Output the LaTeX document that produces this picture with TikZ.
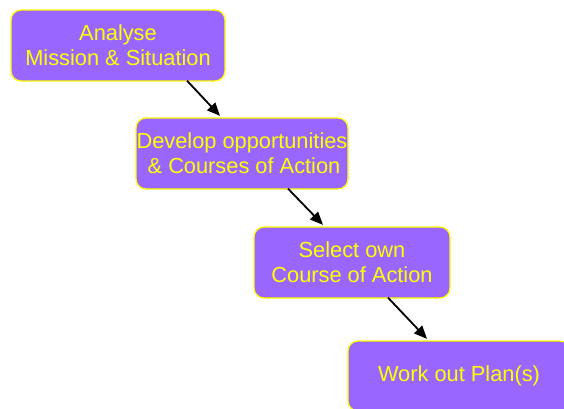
\documentclass[tikz,border=0pt]{standalone}
\usepackage{fontspec}
\setmainfont{Liberation Sans}
\usetikzlibrary{arrows.meta}
\definecolor{boxfill}{HTML}{9966FF}
\definecolor{boxtext}{HTML}{FFFF00}
\tikzset{
  stepbox/.style={draw=boxtext, line width=1.3pt, fill=boxfill, rounded corners=10pt,
    text=boxtext, align=center, inner sep=0pt,
    font=\fontsize{21.8pt}{25pt}\selectfont},
  flow/.style={line width=1.8pt, -{Triangle[length=13pt,width=11pt]}}
}
\begin{document}
\begin{tikzpicture}[x=1pt, y=-1pt]
  \useasboundingbox (0,0) rectangle (564,408);
  \node[stepbox, minimum width=214pt, minimum height=71pt] (b1) at (118,45.5)
    {Analyse\\Mission \& Situation};
  \node[stepbox, minimum width=212pt, minimum height=71pt] (b2) at (242,153.5)
    {Develop opportunities\\\hspace*{4pt}\& Courses of Action};
  \node[stepbox, minimum width=196pt, minimum height=71pt] (b3) at (352,262.5)
    {Select own\\Course of Action};
  \node[stepbox, minimum width=222pt, minimum height=70pt] (b4) at (459,376)
    {Work out Plan(s)};
  \draw[flow] ([xshift=69pt,yshift=1pt]b1.south) -- ([xshift=-22pt,yshift=1.5pt]b2.north);
  \draw[flow] ([xshift=46pt,yshift=1pt]b2.south) -- ([xshift=-29pt,yshift=1.5pt]b3.north);
  \draw[flow] ([xshift=36pt,yshift=1pt]b3.south) -- ([xshift=-32pt,yshift=1.5pt]b4.north);
\end{tikzpicture}
\end{document}
